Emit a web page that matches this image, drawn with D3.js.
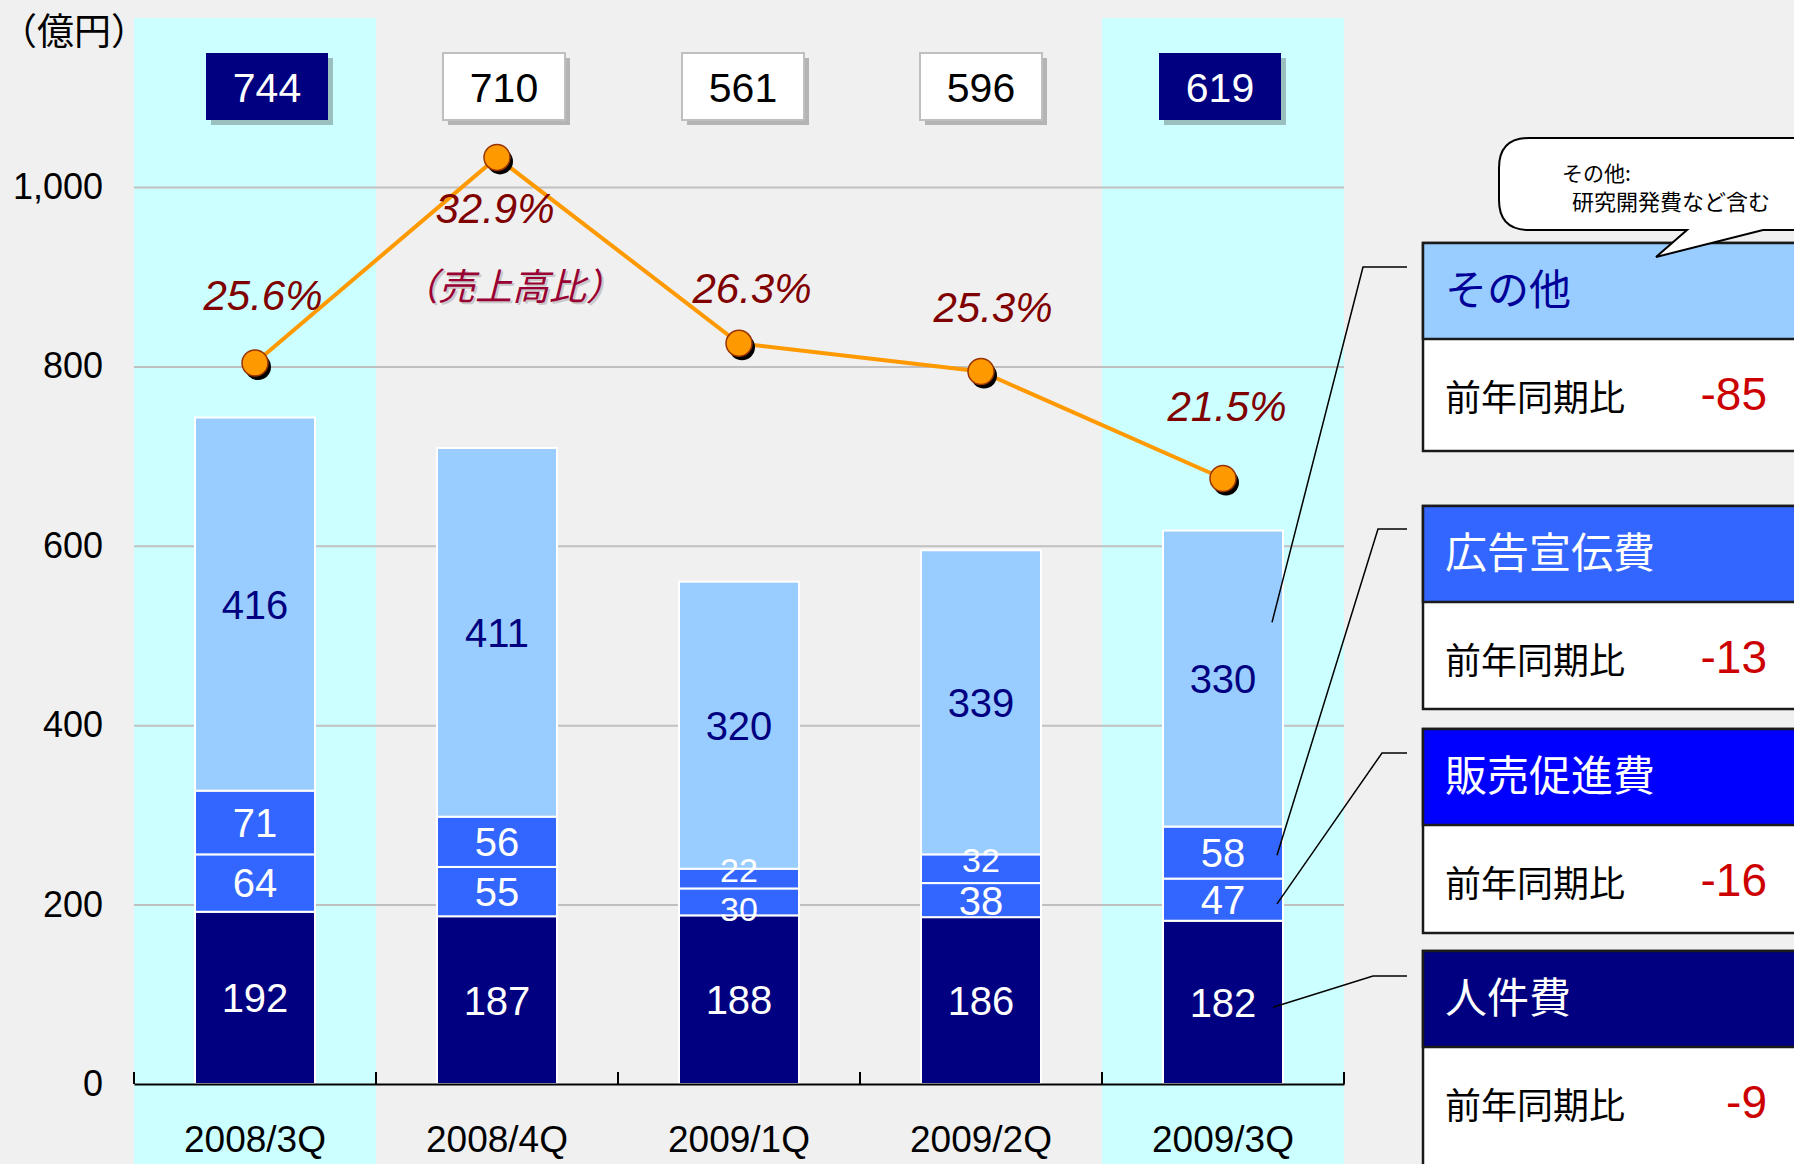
<!DOCTYPE html>
<html>
<head>
<meta charset="utf-8">
<script src="https://cdn.jsdelivr.net/npm/d3@7"></script>
<style>
  body { margin: 0; background: #f0f0f0; }
  svg { display: block; }
  text { font-family: "Liberation Sans", Arial, "Noto Sans CJK JP", sans-serif; }
  .jp { font-family: "Noto Sans CJK JP", "Liberation Sans", sans-serif; }
</style>
</head>
<body>
<svg width="1794" height="1164"></svg>
<script>
// data
const quarters = ["2008/3Q", "2008/4Q", "2009/1Q", "2009/2Q", "2009/3Q"];
const personnel = [192, 187, 188, 186, 182];   // 人件費
const promotion = [64, 55, 30, 38, 47];        // 販売促進費
const advertising = [71, 56, 22, 32, 58];      // 広告宣伝費
const other = [416, 411, 320, 339, 330];       // その他
const totals = [744, 710, 561, 596, 619];
const salesRatio = [25.6, 32.9, 26.3, 25.3, 21.5];
const highlighted = ["2008/3Q", "2009/3Q"];
const yTicks = [0, 200, 400, 600, 800, 1000];
const panelNames = ["その他", "広告宣伝費", "販売促進費", "人件費"];
const panelDiff = [-85, -13, -16, -9];

const keys = ["personnel", "promotion", "advertising", "other"];
const colors = { personnel: "#000080", promotion: "#3366ff", advertising: "#3366ff", other: "#99ccff" };
const labelColors = { personnel: "#fff", promotion: "#fff", advertising: "#fff", other: "#000080" };

const rows = quarters.map((q, i) => ({
  q, personnel: personnel[i], promotion: promotion[i], advertising: advertising[i], other: other[i]
}));

const svg = d3.select("svg");
svg.append("rect").attr("width", 1794).attr("height", 1164).attr("fill", "#f0f0f0");

const x = d3.scaleBand().domain(quarters).range([134, 1344]);
const y = d3.scaleLinear().domain([0, 1000]).range([1084, 187]);
// ratio axis (hidden): 1000 on the left axis ~ 31.85%
const y2 = d3.scaleLinear().domain([0, 31.85]).range([1084, 187]);
const barW = 120;
const cx = q => x(q) + x.bandwidth() / 2;

// highlighted columns
svg.append("g").selectAll("rect")
  .data(highlighted)
  .join("rect")
  .attr("x", d => x(d))
  .attr("y", 18)
  .attr("width", x.bandwidth())
  .attr("height", 1164 - 18)
  .attr("fill", "#ccffff");

// gridlines
svg.append("g")
  .attr("transform", "translate(134,0)")
  .call(d3.axisLeft(y).tickValues(yTicks.filter(d => d > 0)).tickSize(-1210).tickFormat(""))
  .call(g => g.select(".domain").remove())
  .call(g => g.selectAll("line").attr("stroke", "#c0c0c0").attr("stroke-width", 2));

// y labels
svg.append("g")
  .attr("transform", "translate(134,0)")
  .call(d3.axisLeft(y).tickValues(yTicks).tickSize(0).tickPadding(31).tickFormat(d3.format(",")))
  .call(g => g.select(".domain").remove())
  .call(g => g.selectAll("text").attr("font-size", 36).attr("fill", "#000")
    .style("font-family", '"Liberation Sans", Arial, sans-serif'));

svg.append("text")
  .attr("class", "jp")
  .attr("x", 0).attr("y", 45)
  .attr("font-size", 37)
  .text("（億円）");

// stacked bars
const series = d3.stack().keys(keys)(rows);
svg.append("g").selectAll("g")
  .data(series)
  .join("g")
  .attr("fill", d => colors[d.key])
  .selectAll("rect")
  .data(d => d)
  .join("rect")
  .attr("x", d => cx(d.data.q) - barW / 2)
  .attr("y", d => y(d[1]))
  .attr("width", barW)
  .attr("height", d => y(d[0]) - y(d[1]))
  .attr("stroke", "#fff")
  .attr("stroke-width", 2);

// segment labels, on top of all bars; thin segments get smaller labels pushed apart
const thin = d => y(d[0]) - y(d[1]) < 30;
const nudge = { promotion: 7, advertising: -9 };
const segLabels = series.flatMap(s => s.map(v => ({ v, key: s.key })));
svg.append("g").selectAll("text")
  .data(segLabels)
  .join("text")
  .attr("x", d => cx(d.v.data.q))
  .attr("y", d => y((d.v[0] + d.v[1]) / 2) + (thin(d.v) ? (nudge[d.key] || 0) : 0))
  .attr("dy", "0.36em")
  .attr("text-anchor", "middle")
  .attr("font-size", d => thin(d.v) ? 34 : 40)
  .attr("fill", d => labelColors[d.key])
  .text(d => d.v.data[d.key]);

// x axis
const xAxis = svg.append("g")
  .attr("transform", "translate(0,1084)")
  .call(d3.axisBottom(x).tickSize(0).tickPadding(42));
xAxis.select(".domain").attr("stroke", "#000").attr("stroke-width", 2);
xAxis.selectAll("text").attr("font-size", 37).attr("fill", "#000")
  .style("font-family", '"Liberation Sans", Arial, sans-serif');
svg.append("g").selectAll("line")
  .data(d3.range(quarters.length + 1))
  .join("line")
  .attr("x1", i => 134 + i * x.bandwidth())
  .attr("x2", i => 134 + i * x.bandwidth())
  .attr("y1", 1072).attr("y2", 1084)
  .attr("stroke", "#000").attr("stroke-width", 2);

// total boxes
const boxDx = [12, 7, 4, 0, -3];
const boxes = svg.append("g").selectAll("g")
  .data(quarters)
  .join("g")
  .attr("transform", (q, i) => `translate(${cx(q) + boxDx[i] - 61},53)`);
boxes.append("rect")
  .attr("x", 5).attr("y", 5).attr("width", 122).attr("height", 67)
  .attr("fill", "#000").attr("opacity", 0.25);
boxes.append("rect")
  .attr("width", 122).attr("height", 67)
  .attr("fill", q => highlighted.includes(q) ? "#000080" : "#fff")
  .attr("stroke", q => highlighted.includes(q) ? "none" : "#bfbfbf")
  .attr("stroke-width", 2);
boxes.append("text")
  .attr("x", 61).attr("y", 34).attr("dy", "0.36em")
  .attr("text-anchor", "middle")
  .attr("font-size", 41)
  .attr("fill", q => highlighted.includes(q) ? "#fff" : "#000")
  .text((q, i) => totals[i]);

// ratio line
const pts = quarters.map((q, i) => [cx(q), y2(salesRatio[i])]);
svg.append("path")
  .attr("d", d3.line()(pts))
  .attr("fill", "none")
  .attr("stroke", "#ff9900")
  .attr("stroke-width", 4);
svg.append("g").selectAll("circle")
  .data(pts)
  .join("circle")
  .attr("cx", d => d[0] + 3).attr("cy", d => d[1] + 4).attr("r", 13)
  .attr("fill", "#000");
svg.append("g").selectAll("circle")
  .data(pts)
  .join("circle")
  .attr("cx", d => d[0]).attr("cy", d => d[1]).attr("r", 13)
  .attr("fill", "#ff9900")
  .attr("stroke", "#993300").attr("stroke-width", 1.5);

const pctDx = [8, -2, 13, 12, 4];
const pctDy = [-53, 66, -40, -49, -57];
svg.append("g").selectAll("text")
  .data(pts)
  .join("text")
  .attr("x", (d, i) => d[0] + pctDx[i])
  .attr("y", (d, i) => d[1] + pctDy[i])
  .attr("text-anchor", "middle")
  .attr("font-size", 42)
  .attr("font-style", "italic")
  .attr("fill", "#800000")
  .text((d, i) => salesRatio[i].toFixed(1) + "%");

const noteG = svg.append("g").attr("class", "jp")
  .attr("font-size", 37).attr("font-style", "italic").attr("text-anchor", "middle");
noteG.append("text").attr("x", pts[1][0] + 17).attr("y", pts[1][1] + 145)
  .attr("fill", "#c8c8c8").text("（売上高比）");
noteG.append("text").attr("x", pts[1][0] + 15).attr("y", pts[1][1] + 143)
  .attr("fill", "#990033").text("（売上高比）");

// right-hand panel
const panelTop = [243, 506, 729, 951];
const panelBody = [112, 107, 108, 130];
const panelFill = ["#99ccff", "#3366ff", "#0000ff", "#000080"];
const panelText = ["#000099", "#fff", "#fff", "#fff"];
const panel = svg.append("g").selectAll("g")
  .data(panelNames)
  .join("g")
  .attr("transform", (d, i) => `translate(1423,${panelTop[i]})`);
panel.append("rect")
  .attr("width", 400).attr("height", (d, i) => 96 + panelBody[i])
  .attr("fill", "#fff").attr("stroke", "#1a1a1a").attr("stroke-width", 2.5);
panel.append("rect")
  .attr("width", 400).attr("height", 96)
  .attr("fill", (d, i) => panelFill[i]).attr("stroke", "#1a1a1a").attr("stroke-width", 2.5);
panel.append("text")
  .attr("class", "jp")
  .attr("x", 22).attr("y", 62)
  .attr("font-size", 42)
  .attr("fill", (d, i) => panelText[i])
  .text(d => d);
panel.append("text")
  .attr("class", "jp")
  .attr("x", 22).attr("y", 168)
  .attr("font-size", 36)
  .attr("fill", "#000")
  .text("前年同期比");
panel.append("text")
  .attr("x", 344).attr("y", 167)
  .attr("text-anchor", "end")
  .attr("font-size", 46)
  .attr("fill", "#cc0000")
  .text((d, i) => panelDiff[i]);

// leader lines from the 2009/3Q bar to the panel
const last = rows.length - 1;
const leaderKeys = ["other", "advertising", "promotion", "personnel"];
const leaderFrac = [0.69, 0.45, 0.4, 0.47];
const leaderDx = [49, 54, 54, 50];
const elbowX = [1363, 1378, 1382, 1373];
const elbowY = [267, 529, 753, 976];
svg.append("g").selectAll("path")
  .data(leaderKeys)
  .join("path")
  .attr("d", (k, i) => {
    const s = series.find(s => s.key === k)[last];
    const sx = cx(quarters[last]) + leaderDx[i];
    const sy = y(s[0] + (s[1] - s[0]) * leaderFrac[i]);
    return `M${sx},${sy}L${elbowX[i]},${elbowY[i]}L1407,${elbowY[i]}`;
  })
  .attr("fill", "none")
  .attr("stroke", "#000")
  .attr("stroke-width", 1.5);

// speech bubble
const bx0 = 1499, by0 = 138, bx1 = 1830, by1 = 230, r = 30;
svg.append("path")
  .attr("d", `M${bx0 + r},${by0}H${bx1}V${by1}H1763L1656,257L1687,${by1}H${bx0 + r}` +
    `Q${bx0},${by1} ${bx0},${by1 - r}V${by0 + r}Q${bx0},${by0} ${bx0 + r},${by0}Z`)
  .attr("fill", "#fff")
  .attr("stroke", "#000")
  .attr("stroke-width", 2);
svg.append("text").attr("class", "jp")
  .attr("x", 1562).attr("y", 181).attr("font-size", 21).text("その他:");
svg.append("text").attr("class", "jp")
  .attr("x", 1572).attr("y", 210).attr("font-size", 22).text("研究開発費など含む");
</script>
</body>
</html>
